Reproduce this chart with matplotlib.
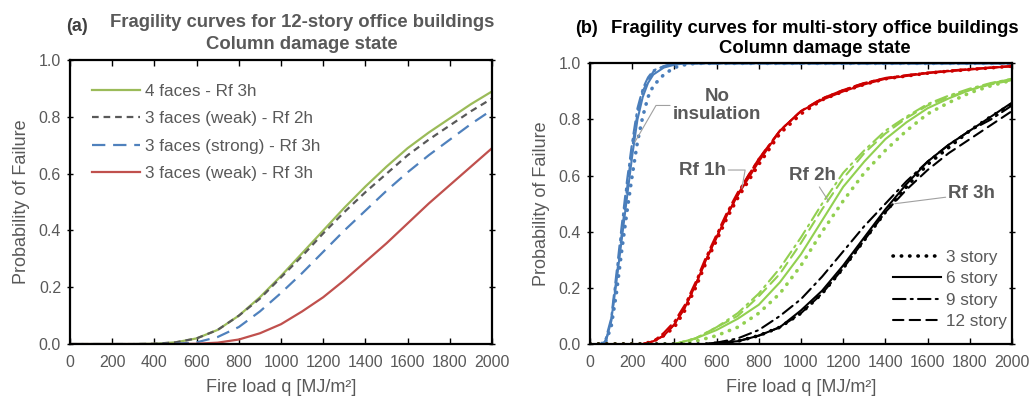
import numpy as np
import matplotlib
matplotlib.use("Agg")
import matplotlib.pyplot as plt

plt.rcParams['font.family'] = ['Liberation Sans', 'DejaVu Sans']
GREY = '#595959'

##### (a) 12-story building, different exposure
q_a = [0, 100, 200, 300, 400, 500, 600, 700, 800, 900, 1000,
       1100, 1200, 1300, 1400, 1500, 1600, 1700, 1800, 1900, 2000]
p_4f_rf3 = [0, 0, 0, 0, 0.001, 0.006, 0.02, 0.05, 0.10, 0.165, 0.24,
            0.32, 0.40, 0.48, 0.555, 0.625, 0.69, 0.745, 0.795, 0.845, 0.89]
p_3fw_rf2 = [0, 0, 0, 0, 0.001, 0.006, 0.02, 0.05, 0.10, 0.16, 0.235,
             0.31, 0.39, 0.465, 0.535, 0.60, 0.665, 0.72, 0.77, 0.82, 0.865]
p_3fs_rf3 = [0, 0, 0, 0, 0, 0.001, 0.006, 0.025, 0.06, 0.115, 0.18,
             0.25, 0.325, 0.40, 0.47, 0.54, 0.605, 0.665, 0.72, 0.775, 0.825]
p_3fw_rf3 = [0, 0, 0, 0, 0, 0, 0.001, 0.005, 0.016, 0.038, 0.07,
             0.115, 0.165, 0.225, 0.29, 0.355, 0.425, 0.495, 0.56, 0.625, 0.69]
labels_a = ['4 faces - Rf 3h', '3 faces (weak) - Rf 2h',
            '3 faces (strong) - Rf 3h', '3 faces (weak) - Rf 3h']

##### (b) 3/6/9/12 story, per insulation
stories = ['3 story', '6 story', '9 story', '12 story']

q_noins = [0, 50, 75, 100, 125, 150, 175, 200, 225, 250, 275, 300, 350, 400, 450, 500, 2000]
p_noins = [
    [0, 0, 0.01, 0.06, 0.18, 0.33, 0.47, 0.60, 0.72, 0.81, 0.88, 0.92, 0.96, 0.985, 0.995, 1.0, 1.0],
    [0, 0, 0.01, 0.08, 0.22, 0.37, 0.52, 0.67, 0.80, 0.88, 0.93, 0.96, 0.985, 0.995, 1.0, 1.0, 1.0],
    [0, 0, 0.02, 0.09, 0.25, 0.42, 0.58, 0.72, 0.84, 0.91, 0.95, 0.975, 0.99, 1.0, 1.0, 1.0, 1.0],
    [0, 0, 0.01, 0.08, 0.23, 0.39, 0.55, 0.70, 0.82, 0.90, 0.94, 0.97, 0.99, 1.0, 1.0, 1.0, 1.0],
]

q_rf1 = [0, 250, 300, 350, 400, 450, 500, 550, 600, 650, 700, 750, 800, 900,
         1000, 1100, 1200, 1300, 1400, 1500, 1600, 1700, 1800, 1900, 2000]
p_rf1 = [
    [0, 0, 0.01, 0.03, 0.06, 0.12, 0.20, 0.29, 0.37, 0.45, 0.52, 0.58, 0.64, 0.75,
     0.82, 0.87, 0.90, 0.925, 0.945, 0.955, 0.965, 0.972, 0.978, 0.984, 0.99],
    [0, 0, 0.01, 0.03, 0.07, 0.13, 0.21, 0.30, 0.38, 0.46, 0.53, 0.59, 0.65, 0.76,
     0.83, 0.87, 0.90, 0.925, 0.945, 0.955, 0.965, 0.972, 0.978, 0.984, 0.99],
    [0, 0, 0.01, 0.04, 0.08, 0.14, 0.22, 0.31, 0.39, 0.47, 0.54, 0.60, 0.66, 0.76,
     0.83, 0.875, 0.905, 0.93, 0.948, 0.958, 0.967, 0.974, 0.98, 0.985, 0.99],
    [0, 0, 0.01, 0.03, 0.07, 0.13, 0.21, 0.30, 0.38, 0.46, 0.53, 0.60, 0.66, 0.76,
     0.83, 0.875, 0.905, 0.93, 0.947, 0.957, 0.966, 0.973, 0.979, 0.985, 0.99],
]

q_rf2 = [0, 400, 450, 500, 600, 700, 800, 900, 1000, 1100, 1200, 1300,
         1400, 1500, 1600, 1700, 1800, 1900, 2000]
p_rf2 = [
    [0, 0, 0.005, 0.01, 0.03, 0.06, 0.11, 0.18, 0.28, 0.40, 0.51, 0.61,
     0.69, 0.76, 0.82, 0.86, 0.895, 0.92, 0.94],
    [0, 0, 0.01, 0.02, 0.05, 0.09, 0.14, 0.22, 0.32, 0.44, 0.56, 0.65,
     0.73, 0.79, 0.84, 0.875, 0.905, 0.928, 0.945],
    [0, 0, 0.01, 0.02, 0.06, 0.11, 0.18, 0.27, 0.38, 0.50, 0.61, 0.69,
     0.76, 0.81, 0.855, 0.885, 0.91, 0.93, 0.945],
    [0, 0, 0.01, 0.02, 0.06, 0.10, 0.17, 0.25, 0.36, 0.48, 0.59, 0.68,
     0.75, 0.805, 0.85, 0.88, 0.905, 0.925, 0.94],
]

q_rf3 = [0, 550, 600, 700, 800, 900, 1000, 1100, 1200, 1300, 1400,
         1500, 1600, 1700, 1800, 1900, 2000]
p_rf3 = [
    [0, 0, 0.003, 0.01, 0.03, 0.06, 0.11, 0.18, 0.27, 0.37, 0.47,
     0.56, 0.64, 0.70, 0.76, 0.81, 0.855],
    [0, 0, 0.005, 0.01, 0.03, 0.06, 0.12, 0.19, 0.28, 0.38, 0.48,
     0.57, 0.65, 0.71, 0.76, 0.81, 0.86],
    [0, 0, 0.005, 0.02, 0.05, 0.10, 0.16, 0.24, 0.33, 0.42, 0.50,
     0.58, 0.65, 0.71, 0.76, 0.80, 0.85],
    [0, 0, 0.004, 0.01, 0.03, 0.06, 0.11, 0.18, 0.27, 0.37, 0.47,
     0.55, 0.62, 0.68, 0.73, 0.78, 0.83],
]

styles_b = [(0, (0.1, 2.2)), '-', (0, (6, 2.5, 1, 2.5)), (0, (5, 3))]


def style_axes(ax):
    ax.set_xlim(0, 2000)
    ax.set_ylim(0, 1.0)
    ax.set_xticks(np.arange(0, 2001, 200))
    ax.set_yticks(np.arange(0, 1.01, 0.2))
    ax.set_yticklabels(['%.1f' % v for v in np.arange(0, 1.01, 0.2)])
    ax.tick_params(axis='x', direction='in', top=True, length=4, width=1,
                   colors='black', labelcolor=GREY, pad=8, labelsize=11.5)
    ax.tick_params(axis='y', direction='inout', right=True, length=5, width=1,
                   colors='black', labelcolor=GREY, pad=4, labelsize=11.5)
    for s in ax.spines.values():
        s.set_linewidth(1.6)
    ax.set_xlabel('Fire load q [MJ/m²]', fontsize=13, color=GREY, labelpad=6)
    ax.set_ylabel('Probability of Failure', fontsize=13, color=GREY, labelpad=6)


fig = plt.figure(figsize=(10.30, 4.01), dpi=100)
ax1 = fig.add_axes([0.068, 0.142, 0.4097, 0.708])
ax2 = fig.add_axes([0.5728, 0.142, 0.4097, 0.700])

##### (a)
ax1.plot(q_a, p_4f_rf3, color='#9BBB59', lw=1.6, label=labels_a[0])
ax1.plot(q_a, p_3fw_rf2, color='#595959', lw=1.6, ls=(0, (3, 2.2)), label=labels_a[1])
ax1.plot(q_a, p_3fs_rf3, color='#4F81BD', lw=1.6, ls=(0, (6, 3.5)), label=labels_a[2])
ax1.plot(q_a, p_3fw_rf3, color='#C0504D', lw=1.6, label=labels_a[3])
style_axes(ax1)
leg1 = ax1.legend(loc='upper left', bbox_to_anchor=(0.036, 0.94), borderaxespad=0,
                  frameon=False, fontsize=12.3, handlelength=2.8, handletextpad=0.3,
                  labelspacing=0.72)
for t in leg1.get_texts():
    t.set_color(GREY)
fig.text(0.064, 1 - 31 / 401, '(a)', fontsize=13, fontweight='bold', color='#404040')
fig.text(0.293, 1 - 27 / 401, 'Fragility curves for 12-story office buildings',
         ha='center', va='baseline', fontsize=13.3, fontweight='bold', color=GREY)
fig.text(0.293, 1 - 49 / 401, 'Column damage state',
         ha='center', va='baseline', fontsize=13.3, fontweight='bold', color=GREY)

##### (b)
groups = [(q_noins, p_noins, '#4A7EBB'), (q_rf1, p_rf1, '#CC0000'),
          (q_rf2, p_rf2, '#92D050'), (q_rf3, p_rf3, 'black')]
for q, ps, c in groups:
    for k, p in enumerate(ps):
        lw = 2.6 if k == 0 else 1.5
        ax2.plot(q, p, color=c, lw=lw, ls=styles_b[k], dash_capstyle='round')
style_axes(ax2)
for k, name in enumerate(stories):
    ax2.plot([], [], color='black', lw=2.6 if k == 0 else 1.5, ls=styles_b[k],
             dash_capstyle='round', label=name)
leg2 = ax2.legend(loc='lower right', bbox_to_anchor=(1.005, 0.028), borderaxespad=0,
                  frameon=False, fontsize=12.3, handlelength=2.8, handletextpad=0.3,
                  labelspacing=0.38)
for t in leg2.get_texts():
    t.set_color(GREY)

# annotations
ann = dict(fontsize=13.5, fontweight='bold', color=GREY)
arr = dict(arrowstyle='-', color='#A0A0A0', lw=0.8, shrinkA=0, shrinkB=0)
ax2.annotate('No\ninsulation', xy=(213, 0.72), xytext=(602, 0.85), ha='center', va='center',
             linespacing=1.05, arrowprops=dict(arr, connectionstyle='angle,angleA=0,angleB=60'), **ann)
ax2.annotate('Rf 1h', xy=(720, 0.555), xytext=(531, 0.62), ha='center', va='center',
             arrowprops=dict(arr, connectionstyle='angle,angleA=0,angleB=80'), **ann)
ax2.annotate('Rf 2h', xy=(1130, 0.51), xytext=(1052, 0.60), ha='center', va='center',
             arrowprops=arr, **ann)
ax2.annotate('Rf 3h', xy=(1445, 0.50), xytext=(1810, 0.535), ha='center', va='center',
             arrowprops=arr, **ann)
fig.text(575 / 1030, 1 - 33 / 401, '(b)', fontsize=13, fontweight='bold', color='black')
fig.text(815 / 1030, 1 - 33 / 401, 'Fragility curves for multi-story office buildings',
         ha='center', va='baseline', fontsize=13.3, fontweight='bold', color='black')
fig.text(815 / 1030, 1 - 53 / 401, 'Column damage state',
         ha='center', va='baseline', fontsize=13.3, fontweight='bold', color='black')

fig.savefig('out.png', dpi=100)
